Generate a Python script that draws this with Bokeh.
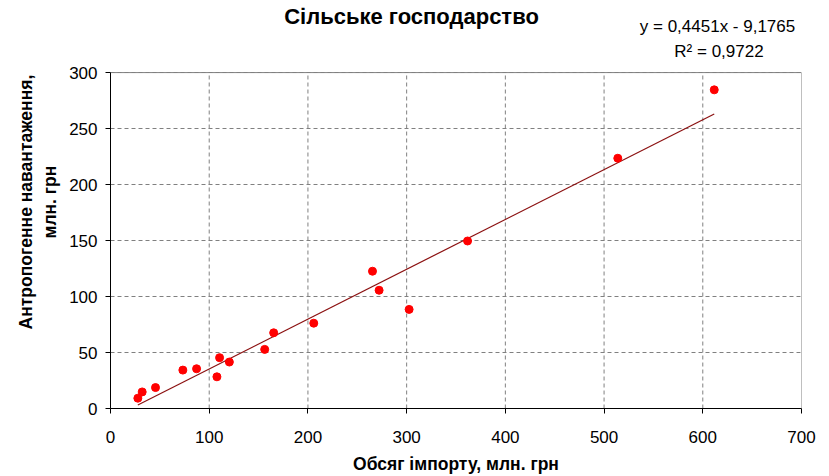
from bokeh.plotting import figure
from bokeh.models import Range1d, Label, ColumnDataSource, FixedTicker
from bokeh.embed import file_html
from bokeh.resources import INLINE

# Data
import_volume = [27.7, 32.1, 45.6, 73.3, 87.2, 107.8, 110.5, 120.4, 156.2, 165.3,
                 205.9, 265.4, 272.1, 302.5, 361.7, 513.9, 611.6]
anthropogenic_load = [9.2, 14.8, 18.7, 34.3, 35.5, 28.3, 45.4, 41.5, 52.8, 67.6,
                      76.2, 122.6, 105.6, 88.5, 149.6, 223.5, 284.6]
slope = 0.4451
intercept = -9.1765
r_squared = 0.9722
x_ticks = [0, 100, 200, 300, 400, 500, 600, 700]
y_ticks = [0, 50, 100, 150, 200, 250, 300]
title_text = "Сільське господарство"
x_title = "Обсяг імпорту, млн. грн"
y_title_lines = ["Антропогенне навантаження,", "млн. грн"]

FONT = "Liberation Sans"
W, H = 829, 476

# layout (pixels): plot area top/bottom; the frame is extended up to the canvas top
AREA_TOP, AREA_BOTTOM = 72, 407.5
x_lo, x_hi = x_ticks[0], x_ticks[-1]
y_lo, y_hi = y_ticks[0], y_ticks[-1]
y_top = y_hi + AREA_TOP * (y_hi - y_lo) / (AREA_BOTTOM - AREA_TOP)

p = figure(width=W, height=H, output_backend="svg", toolbar_location=None,
           x_range=Range1d(x_lo, x_hi), y_range=Range1d(y_lo, y_top),
           min_border_left=110, min_border_right=28, min_border_top=0,
           min_border_bottom=68)
p.title.visible = False

p.background_fill_color = "white"
p.border_fill_color = "white"
p.outline_line_color = None

# horizontal grid (full width) and vertical grid limited to the plot area
p.ygrid.grid_line_color = "#808080"
p.ygrid.grid_line_dash = "4 3"
p.ygrid.grid_line_width = 1
p.xgrid.visible = False
inner_x = x_ticks[1:-1]
p.segment(x0=inner_x, y0=[y_lo] * len(inner_x), x1=inner_x, y1=[y_hi] * len(inner_x),
          line_color="#808080", line_dash="4 3", line_width=1)
# plot-area border (top and right)
p.line([x_lo, x_hi, x_hi], [y_hi, y_hi, y_lo], line_color="#808080", line_width=1)

p.xaxis.ticker = FixedTicker(ticks=x_ticks)
p.yaxis.ticker = FixedTicker(ticks=y_ticks)
p.yaxis.bounds = (y_lo, y_hi)

for ax in (p.xaxis[0], p.yaxis[0]):
    ax.axis_line_color = "black"
    ax.axis_line_width = 1
    ax.major_tick_line_color = "black"
    ax.major_tick_in = 0
    ax.major_tick_out = 5
    ax.minor_tick_line_color = None
    ax.major_label_text_font = FONT
    ax.major_label_text_font_size = "17px"
    ax.major_label_text_color = "black"
    ax.axis_label_text_font = FONT
    ax.axis_label_text_font_size = "17.5px"
    ax.axis_label_text_font_style = "bold"
    ax.axis_label_text_color = "black"

p.xaxis.axis_label = x_title
p.xaxis.major_label_standoff = 17
p.xaxis.axis_label_standoff = 8
# a leading no-break space nudges the rotated title slightly downwards, as in the reference
pad = "\u00a0"
p.yaxis.axis_label = "\n".join(pad + line for line in y_title_lines)
p.yaxis.major_label_standoff = 8
p.yaxis.axis_label_standoff = 6

# trend line over the data range
x_min = min(import_volume)
x_max = max(import_volume)
p.line([x_min, x_max], [slope * x_min + intercept, slope * x_max + intercept],
       line_color="#8B1010", line_width=1.2)

src = ColumnDataSource(dict(x=import_volume, y=anthropogenic_load))
p.scatter("x", "y", source=src, size=8, fill_color="#FF0000", line_color="#FF0000")

# title and regression equation (frame-relative screen units; frame spans canvas top)
p.add_layout(Label(x=301, y=AREA_BOTTOM - 15, x_units="screen", y_units="screen",
                   text=title_text, text_align="center", text_baseline="middle",
                   text_font=FONT, text_font_size="22px", text_font_style="bold",
                   text_color="black"))

eq1 = "y = " + f"{slope:.4f}".replace(".", ",") + "x - " + f"{abs(intercept):.4f}".replace(".", ",")
eq2 = "R² = " + f"{r_squared:.4f}".replace(".", ",")
p.add_layout(Label(x=607, y=AREA_BOTTOM - 25, x_units="screen", y_units="screen", text=eq1,
                   text_align="center", text_baseline="middle",
                   text_font=FONT, text_font_size="17px", text_color="black"))
p.add_layout(Label(x=608.5, y=AREA_BOTTOM - 50, x_units="screen", y_units="screen", text=eq2,
                   text_align="center", text_baseline="middle",
                   text_font=FONT, text_font_size="17px", text_color="black"))

open("out.html", "w").write(file_html(p, INLINE))
